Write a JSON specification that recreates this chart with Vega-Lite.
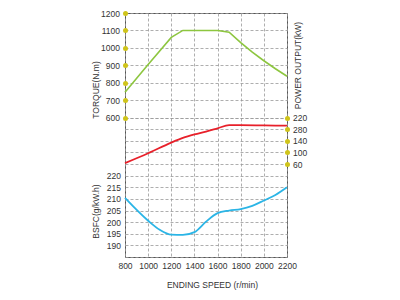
{
  "$schema": "https://vega.github.io/schema/vega-lite/v6.json",
  "width": 162,
  "height": 244,
  "autosize": {"type": "none"},
  "padding": {"left": 125, "top": 13, "right": 113, "bottom": 43},
  "background": "white",
  "config": {
    "view": {"stroke": "#555", "strokeWidth": 1},
    "axis": {
      "labelFont": "Liberation Sans",
      "titleFont": "Liberation Sans",
      "labelFontSize": 8.5,
      "titleFontSize": 8.5,
      "labelColor": "#333",
      "titleColor": "#333",
      "titleFontWeight": "normal",
      "domain": false,
      "gridColor": "#999",
      "gridDash": [3, 2],
      "gridWidth": 0.8,
      "gridOpacity": 1,
      "labelOverlap": false,
      "format": "d"
    }
  },
  "datasets": {
    "torque": [
      {"rpm": 800, "torque": 745},
      {"rpm": 1000, "torque": 905},
      {"rpm": 1200, "torque": 1060},
      {"rpm": 1300, "torque": 1100},
      {"rpm": 1400, "torque": 1100},
      {"rpm": 1500, "torque": 1100},
      {"rpm": 1600, "torque": 1100},
      {"rpm": 1700, "torque": 1090},
      {"rpm": 1800, "torque": 1030},
      {"rpm": 1900, "torque": 975},
      {"rpm": 2000, "torque": 926},
      {"rpm": 2100, "torque": 880},
      {"rpm": 2200, "torque": 837}
    ],
    "power": [
      {"rpm": 800, "power": 63},
      {"rpm": 1000, "power": 97},
      {"rpm": 1200, "power": 134},
      {"rpm": 1300, "power": 150},
      {"rpm": 1400, "power": 162},
      {"rpm": 1500, "power": 172},
      {"rpm": 1600, "power": 183},
      {"rpm": 1700, "power": 194},
      {"rpm": 1800, "power": 194},
      {"rpm": 2000, "power": 193},
      {"rpm": 2200, "power": 192}
    ],
    "bsfc": [
      {"rpm": 800, "bsfc": 210.4},
      {"rpm": 1000, "bsfc": 200.6},
      {"rpm": 1100, "bsfc": 196.7},
      {"rpm": 1200, "bsfc": 194.6},
      {"rpm": 1300, "bsfc": 194.5},
      {"rpm": 1400, "bsfc": 195.7},
      {"rpm": 1500, "bsfc": 200.2},
      {"rpm": 1600, "bsfc": 203.9},
      {"rpm": 1700, "bsfc": 205.0},
      {"rpm": 1800, "bsfc": 205.6},
      {"rpm": 1900, "bsfc": 207.0},
      {"rpm": 2000, "bsfc": 209.3},
      {"rpm": 2100, "bsfc": 211.7},
      {"rpm": 2200, "bsfc": 215.0}
    ]
  },
  "encoding": {
    "x": {
      "field": "rpm",
      "type": "quantitative",
      "scale": {"domain": [800, 2200], "nice": false, "zero": false},
      "axis": {
        "values": [800, 1000, 1200, 1400, 1600, 1800, 2000, 2200],
        "title": "ENDING SPEED (r/min)",
        "ticks": false,
        "labelPadding": 4,
        "labelFlush": false,
        "grid": true,
        "titleX": 87,
        "titleY": 27,
        "titleBaseline": "middle",
        "titleAlign": "center"
      }
    }
  },
  "layer": [
    {
      "data": {"name": "torque"},
      "mark": {"type": "line", "color": "#8dc63f", "strokeWidth": 1.6},
      "encoding": {
        "y": {
          "field": "torque",
          "type": "quantitative",
          "scale": {"domain": [-200, 1200], "nice": false, "zero": false},
          "axis": {
            "orient": "left",
            "values": [600, 700, 800, 900, 1000, 1100, 1200],
            "grid": true,
            "ticks": true,
            "tickSize": 0,
            "tickWidth": 5,
            "tickCap": "round",
            "tickColor": "#cfc41a",
            "labelPadding": 5.5,
            "title": "TORQUE(N.m)",
            "titleX": -30,
            "titleY": 76.5,
            "titleAngle": 270,
            "titleBaseline": "middle",
            "titleAlign": "center"
          }
        }
      }
    },
    {
      "data": {"name": "power"},
      "mark": {"type": "line", "color": "#e8202a", "strokeWidth": 1.8, "interpolate": "monotone"},
      "encoding": {
        "y": {
          "field": "power",
          "type": "quantitative",
          "scale": {"domain": [-260, 580], "nice": false, "zero": false},
          "axis": {
            "orient": "right",
            "values": [60, 100, 140, 180, 220],
            "labelExpr": "datum.value == 180 ? '280' : datum.label",
            "grid": false,
            "ticks": true,
            "tickSize": 0,
            "tickWidth": 5,
            "tickCap": "round",
            "tickColor": "#cfc41a",
            "labelPadding": 5.5,
            "title": "POWER OUTPUT(kW)",
            "titleX": 10,
            "titleY": 52,
            "titleAngle": 270,
            "titleBaseline": "middle",
            "titleAlign": "center"
          }
        }
      }
    },
    {
      "data": {"name": "bsfc"},
      "mark": {"type": "line", "color": "#2bb5e6", "strokeWidth": 1.8, "interpolate": "monotone"},
      "encoding": {
        "y": {
          "field": "bsfc",
          "type": "quantitative",
          "scale": {"domain": [185, 290], "nice": false, "zero": false},
          "axis": {
            "orient": "left",
            "values": [185, 190, 195, 200, 205, 210, 215, 220, 225, 230, 235, 240, 245],
            "labelExpr": "datum.value >= 190 && datum.value <= 220 ? datum.label : ''",
            "grid": true,
            "ticks": false,
            "labelPadding": 4.5,
            "title": "BSFC(g/kW.h)",
            "titleX": -30,
            "titleY": 198,
            "titleAngle": 270,
            "titleBaseline": "middle",
            "titleAlign": "center"
          }
        }
      }
    }
  ],
  "resolve": {"scale": {"y": "independent"}}
}
